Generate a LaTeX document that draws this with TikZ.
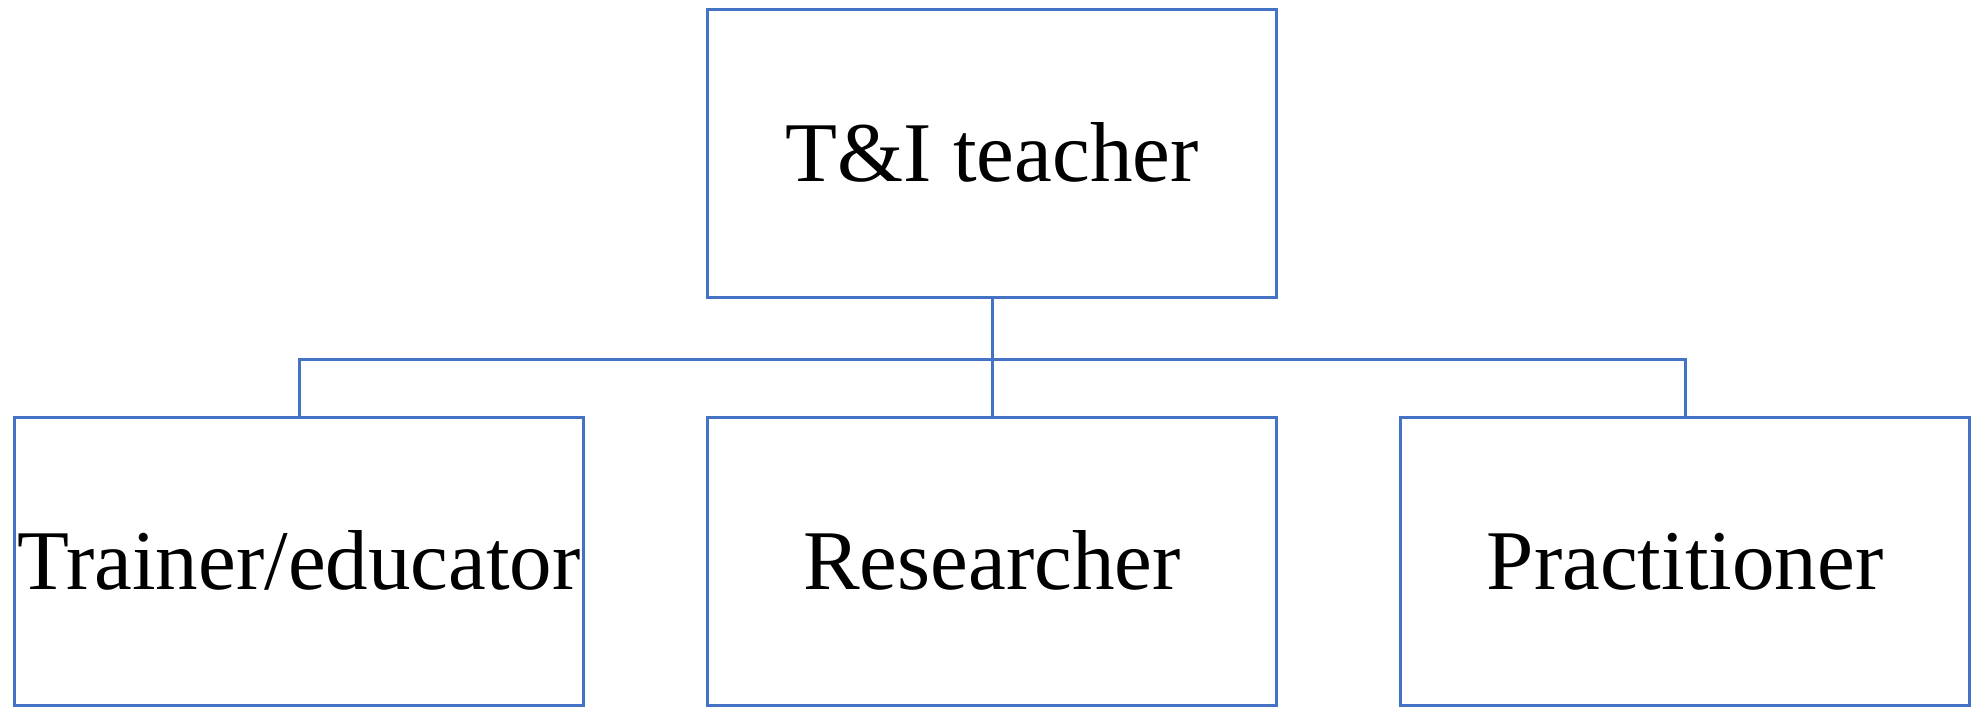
\documentclass[tikz,border=0pt]{standalone}
\usepackage{fontspec}
\setmainfont{Liberation Serif}
\usepackage{xcolor}
\usepackage{tikz}
\usetikzlibrary{positioning}

\definecolor{boxblue}{HTML}{4472C4}

\begin{document}
\begin{tikzpicture}[x=1pt, y=-1pt, node distance=120pt,
    role/.style={draw=boxblue, line width=3pt, rectangle, inner sep=0pt, outer sep=0pt,
      minimum width=569pt, minimum height=288pt, text height=56pt, text depth=0pt,
      font=\fontsize{85}{100}\selectfont},
    link/.style={draw=boxblue, line width=3pt}]
        \useasboundingbox (0,0) rectangle (1985,716);

        \node[role] (T) at (992,153.5) {T\&I teacher};
        \node[role] (R) [below = 120pt of T] {Researcher};
        \node[role] (L) [left = 124pt of R] {Trainer/educator};
        \node[role] (P) [right = 124pt of R] {Practitioner};

        \coordinate (bus) at (992,359);

        \draw[link] (T.south) -- (R.north);
        \draw[link] (L.north) |- (bus) -| (P.north);
  \end{tikzpicture}
\end{document}
